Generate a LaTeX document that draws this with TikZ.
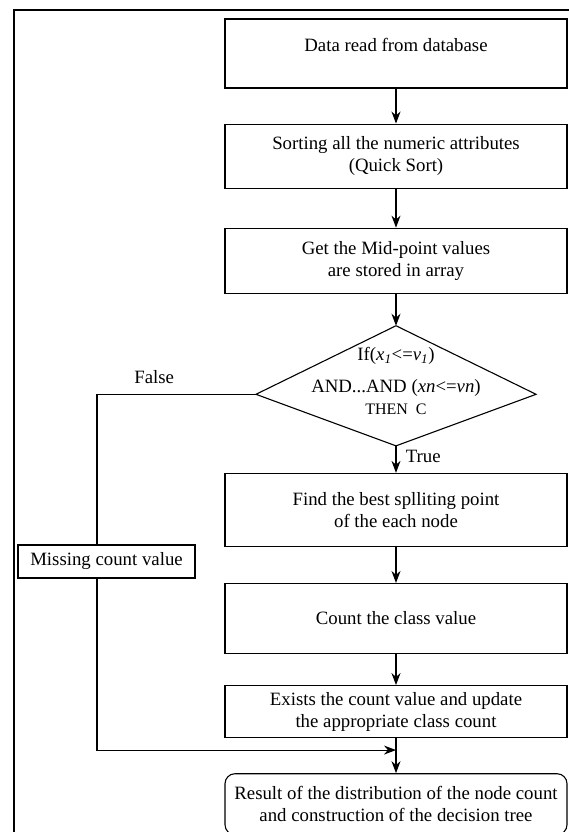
\documentclass[tikz,border=0pt]{standalone}
\usepackage{fontspec}
\setmainfont{Liberation Serif}
\usetikzlibrary{positioning,arrows.meta,calc}

\begin{document}
\begin{tikzpicture}[x=1pt,y=-1pt,node distance=34pt,>={Stealth[length=12pt,width=9pt]},
  line width=1.1pt,font=\fontsize{18.8}{22}\selectfont,
  box/.style={draw,align=center,minimum width=342pt,inner sep=0pt},
  test/.style={minimum width=279pt,minimum height=119pt,inner sep=0pt},
  endbox/.style={box,rounded corners=10pt}]
\useasboundingbox (0,0) rectangle (568,832);
\draw (14,10) rectangle (600,860);

\node (read) [box,minimum height=69pt,text depth=17pt] at (396,53.5) {Data read from database};
\node (sort) [box,below=35pt of read,minimum height=64pt] {Sorting all the numeric attributes\\(Quick Sort)};
\node (mid) [box,below=39pt of sort,minimum height=65pt] {Get the Mid-point values\\are stored in array};
% the decision: tips sit a little below the middle
\node (cond) [test,below=32pt of mid] {};
\coordinate (cw) at ($(cond.west)+(0,8.5)$);
\coordinate (ce) at ($(cond.east)+(0,8.5)$);
\draw (cond.north) -- (cw) -- (cond.south) -- (ce) -- cycle;
\node (condtxt) [align=center,yshift=5pt] at (cond) {If(\textit{x}\textsubscript{\textit{1}}<=\textit{v}\textsubscript{\textit{1}})\\[10pt]
  AND...AND (\textit{xn}<=\textit{vn})\\{\fontsize{16}{20}\selectfont THEN\ \ C}};
\node (split) [box,below=27pt of cond,minimum height=73pt] {Find the best splliting point\\of the each node};
\node (count) [box,below=36pt of split,minimum height=70pt] {Count the class value};
\node (upd) [box,below=31pt of count,minimum height=52pt] {Exists the count value and update\\the appropriate class count};
\node (res) [endbox,below=35pt of upd,minimum height=61pt] {Result of the distribution of the node count\\and construction of the decision tree};
\node (miss) [box,minimum width=177pt,minimum height=33pt] at (106.5,561.5) {Missing count value};

\coordinate (fk) at ($(cw)+(-159,0)$);
\coordinate (jn) at ($(upd.south)!.34!(res.north)$);

\draw[->] (read) -- (sort);
\draw[->] (sort) -- (mid);
\draw[->] (mid) -- (cond);
\draw[->] (cond) -- node[right,pos=.4,xshift=6pt] {True} (split);
\draw[->] (split) -- (count);
\draw[->] (count) -- (upd);
\draw[->] (upd) -- (res);
\draw (cw) -- node[above=7pt,pos=.64] {False} (fk) -- (fk |- miss.north);
\draw[->] (fk |- miss.south) |- (jn);
\end{tikzpicture}
\end{document}
